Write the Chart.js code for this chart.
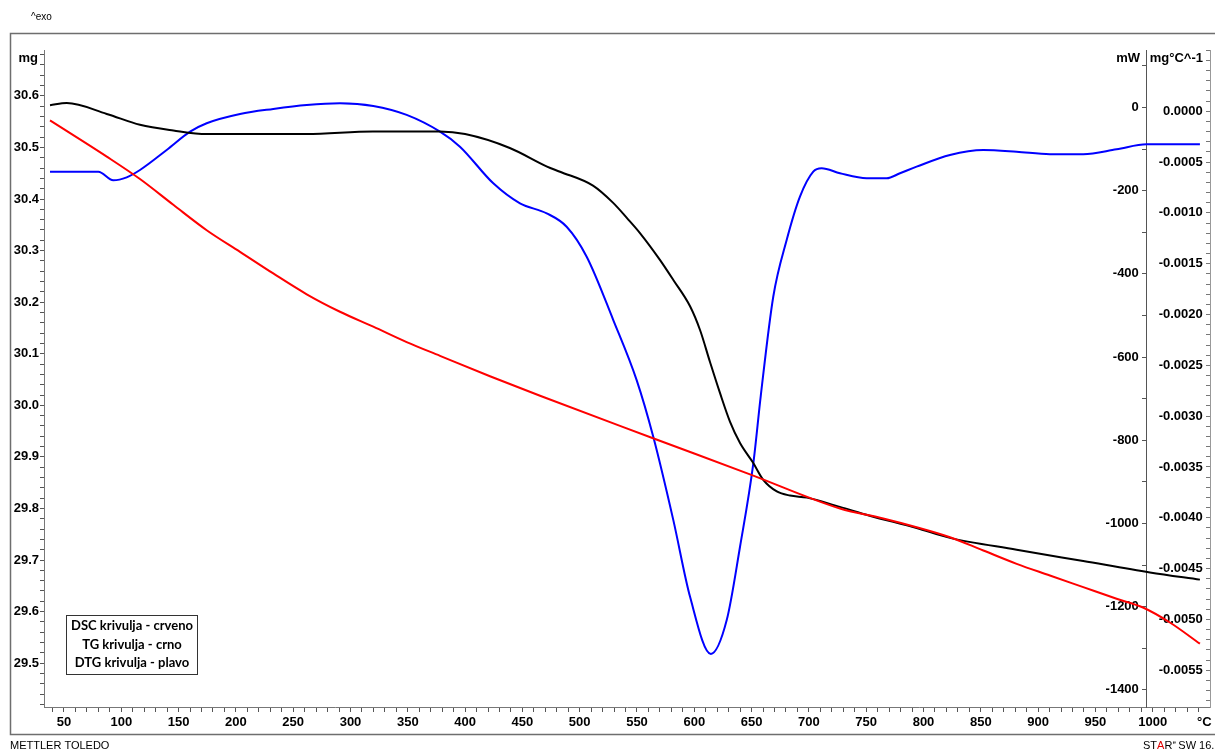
<!DOCTYPE html>
<html>
<head>
<meta charset="utf-8">
<script src="https://cdn.jsdelivr.net/npm/chart.js@4.4.1/dist/chart.umd.min.js"></script>
<style>
  html, body { margin: 0; padding: 0; background: #fff; }
  #wrap { width: 1215px; height: 753px; }
</style>
</head>
<body>
<div id="wrap"><canvas id="graf" width="1215" height="753"></canvas></div>
<script>
// temperature (°C) / value pairs
const tgTemp = [37.8, 52.4, 87.3, 116.3, 145.4, 174.5, 261.8, 319.6, 378, 400, 439, 471.5, 482.8, 511.6, 529, 541.3, 552.6, 570, 581.7, 596.3, 605, 613.7, 622.4, 631.2, 639.9, 651.2, 660, 672, 683.5, 698.3, 727, 753, 794, 823.1, 881.3, 939.4, 997.6, 1041.2];
const tgMass = [30.582, 30.586, 30.565, 30.544, 30.533, 30.526, 30.526, 30.531, 30.531, 30.526, 30.499, 30.463, 30.453, 30.426, 30.393, 30.363, 30.334, 30.282, 30.243, 30.192, 30.146, 30.084, 30.024, 29.968, 29.927, 29.889, 29.856, 29.833, 29.825, 29.821, 29.803, 29.786, 29.762, 29.743, 29.720, 29.698, 29.676, 29.662];

const dscTemp = [37.8, 87.3, 116.3, 145.4, 174.5, 203.6, 232.6, 261.8, 290.8, 319.9, 349, 378.1, 421.7, 465.4, 564, 648.6, 727.1, 764.9, 794, 823.1, 852.2, 881.3, 910.3, 939.4, 968.5, 991.5, 1015, 1041.2];
const dscHeat = [-31, -118, -172, -234, -295, -347, -399, -449, -491, -527, -564, -597, -646, -693, -795, -882, -964, -988, -1009, -1033, -1065, -1097, -1125, -1153, -1181, -1202, -1238, -1289];

const dtgTemp = [37.8, 80, 93, 104.7, 116.3, 139.6, 160, 174.5, 203.6, 232.6, 261.8, 290.8, 319.9, 349, 378.1, 395.5, 424.6, 447.9, 471.2, 488.6, 506.1, 529.3, 549.7, 564.2, 581.7, 596.3, 614.5, 628.3, 639.9, 651.5, 658, 668.9, 680.6, 692.2, 703.8, 711.1, 727.1, 750.4, 767.8, 779.5, 794, 823.1, 852.2, 881.3, 910.3, 939.4, 968.5, 994.7, 1041.2];
const dtgRate = [-0.000594, -0.000594, -0.000679, -0.000650, -0.000578, -0.000381, -0.000201, -0.000118, -0.000027, 0.000023, 0.000062, 0.000079, 0.000052, -0.000036, -0.000201, -0.000348, -0.000709, -0.000906, -0.001004, -0.001136, -0.001431, -0.002054, -0.002645, -0.003203, -0.004023, -0.004778, -0.005340, -0.005007, -0.004285, -0.003465, -0.002800, -0.001825, -0.001267, -0.000840, -0.000594, -0.000561, -0.000610, -0.000659, -0.000659, -0.000610, -0.000545, -0.000430, -0.000381, -0.000398, -0.000423, -0.000423, -0.000374, -0.000325, -0.000325];

const legendLines = ['DSC krivulja - crveno', 'TG krivulja - crno', 'DTG krivulja - plavo'];

const tickFont = { family: "'Liberation Sans Narrow', 'Liberation Sans', Arial, sans-serif", size: 13, weight: 'bold' };
const gap = '\u00a0\u00a0';

function pts(xs, ys) {
  return xs.map((x, i) => ({ x: x, y: ys[i] }));
}

function stepTicks(from, to, step) {
  const out = [];
  const n = Math.round((to - from) / step);
  for (let i = 0; i <= n; i++) out.push({ value: +(from + i * step).toFixed(6) });
  return out;
}

function onMultiple(v, m) {
  return Math.abs(v / m - Math.round(v / m)) < 1e-6;
}

const okvir = {
  id: 'okvir',
  afterDraw(chart) {
    const ctx = chart.ctx;
    ctx.save();
    ctx.strokeStyle = '#6e6e6e';
    ctx.lineWidth = 1.5;
    ctx.strokeRect(10.5, 33.5, 1220, 701);

    ctx.fillStyle = '#000';
    ctx.textBaseline = 'middle';
    ctx.font = "bold 13px 'Liberation Sans Narrow', 'Liberation Sans', Arial";
    ctx.textAlign = 'right';
    ctx.fillText('mg', 38, 58);
    ctx.fillText('mW', 1140, 58);
    ctx.fillText('mg°C^-1', 1203, 58);

    ctx.font = "10px 'Liberation Sans Narrow', 'Liberation Sans', Arial";
    ctx.textAlign = 'left';
    ctx.fillText('^exo', 31, 17);

    ctx.font = "11px 'Liberation Sans Narrow', 'Liberation Sans', Arial";
    ctx.fillText('METTLER TOLEDO', 10, 746);
    let x = 1143;
    [['ST', '#000'], ['A', '#e00000'], ['R', '#000']].forEach(([s, c]) => {
      ctx.fillStyle = c;
      ctx.fillText(s, x, 746);
      x += ctx.measureText(s).width;
    });
    ctx.fillStyle = '#000';
    ctx.font = "6px 'Liberation Sans', Arial";
    ctx.fillText('e', x + 0.5, 742);
    x += 6;
    ctx.font = "11px 'Liberation Sans Narrow', 'Liberation Sans', Arial";
    ctx.fillText('SW 16.10', x, 746);

    // legend box
    ctx.fillStyle = '#fff';
    ctx.fillRect(66, 615, 131, 59);
    ctx.strokeStyle = '#333';
    ctx.lineWidth = 1;
    ctx.strokeRect(66.5, 615.5, 131, 59);
    ctx.fillStyle = '#000';
    ctx.textAlign = 'center';
    ctx.font = "bold 13px Lato, 'Open Sans', sans-serif";
    legendLines.forEach((t, i) => ctx.fillText(t, 132, 626 + i * 18.5));
    ctx.restore();
  }
};

new Chart(document.getElementById('graf'), {
  type: 'line',
  data: {
    datasets: [
      { label: 'DSC', data: pts(dscTemp, dscHeat), yAxisID: 'yMw', borderColor: '#ff0000' },
      { label: 'TG', data: pts(tgTemp, tgMass), yAxisID: 'yMg', borderColor: '#000000' },
      { label: 'DTG', data: pts(dtgTemp, dtgRate), yAxisID: 'yDtg', borderColor: '#0000ff' }
    ]
  },
  options: {
    responsive: false,
    devicePixelRatio: 1,
    animation: false,
    layout: { padding: { left: 10, top: 50, right: 5, bottom: 19 } },
    elements: {
      point: { radius: 0 },
      line: { borderWidth: 2, cubicInterpolationMode: 'monotone', fill: false }
    },
    plugins: { legend: { display: false }, tooltip: { enabled: false } },
    scales: {
      x: {
        type: 'linear',
        min: 32.55,
        max: 1050,
        afterBuildTicks: s => { s.ticks = stepTicks(40, 1040, 10).concat([{ value: 1045 }]); },
        afterFit: s => { s.height = 27; },
        ticks: {
          autoSkip: false, maxRotation: 0, font: tickFont, color: '#000', padding: 3,
          callback: v => v === 1045 ? '°C' : (onMultiple(v, 50) ? String(v) : '')
        },
        grid: {
          drawOnChartArea: false, tickLength: 5, color: '#555',
          tickColor: c => (c.tick && c.tick.value === 1045) ? 'rgba(0,0,0,0)' : '#555'
        },
        border: { color: '#777' }
      },
      yMg: {
        type: 'linear',
        position: 'left',
        min: 29.415,
        max: 30.689,
        afterBuildTicks: s => { s.ticks = stepTicks(29.42, 30.68, 0.02); },
        afterFit: s => { s.width = 34; },
        ticks: {
          autoSkip: false, font: tickFont, color: '#000', padding: 1,
          callback: v => onMultiple(v, 0.1) ? v.toFixed(1) : ''
        },
        grid: { drawOnChartArea: false, tickLength: 4, color: '#555' },
        border: { color: '#777' }
      },
      yMw: {
        type: 'linear',
        position: { x: 994.2 },
        min: -1441.2,
        max: 138.2,
        afterBuildTicks: s => { s.ticks = stepTicks(-1400, 100, 100); },
        ticks: {
          autoSkip: false, font: tickFont, color: '#000', padding: 1,
          callback: v => (onMultiple(v, 200) && v <= 0) ? String(v) + gap : ''
        },
        grid: { drawOnChartArea: false, tickLength: 4, color: '#555' },
        border: { color: '#555' }
      },
      yDtg: {
        type: 'linear',
        position: { x: 1050 },
        min: -0.005862,
        max: 0.000603,
        afterBuildTicks: s => { s.ticks = stepTicks(-0.0058, 0.0006, 0.0001); },
        ticks: {
          autoSkip: false, font: tickFont, color: '#000', padding: 1,
          callback: v => (onMultiple(v, 0.0005) && v <= 0) ? v.toFixed(4) + gap : ''
        },
        grid: { drawOnChartArea: false, tickLength: 4, color: '#777' },
        border: { color: '#999' }
      }
    }
  },
  plugins: [okvir]
});
</script>
</body>
</html>
